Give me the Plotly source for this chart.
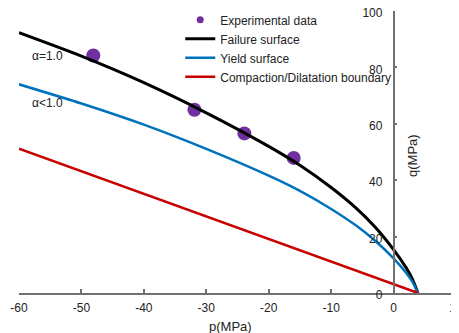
import plotly.graph_objects as go

# Data
p_curve = [-60, -50, -40, -30, -20, -15, -10, -6, -3, 0, 2, 3, 3.9]
q_failure = [92.3, 84.0, 74.6, 63.9, 52.0, 45.3, 37.4, 30.1, 23.5, 15.4, 9.0, 5.0, 0.0]
q_yield = [74.0, 67.2, 59.7, 51.1, 41.6, 36.2, 29.8, 23.9, 18.6, 12.3, 7.2, 4.0, 0.0]
p_boundary = [-60, 3.9]
q_boundary = [51.2, 0.0]
p_exp = [-48.1, -31.9, -23.9, -16.0]
q_exp = [84.2, 65.0, 56.6, 47.9]
x_ticks = [-60, -50, -40, -30, -20, -10, 0, 10]
y_ticks = [0, 20, 40, 60, 80, 100]

FONT = "Arial, Liberation Sans, Helvetica, sans-serif"
TXT = "#222222"
PURPLE = "#7030A0"

fig = go.Figure()
fig.add_trace(go.Scatter(x=p_exp, y=q_exp, mode="markers", name="Experimental data",
                         marker=dict(color=PURPLE, size=14), showlegend=False))
# legend-only entry with the small legend marker
fig.add_trace(go.Scatter(x=[None], y=[None], mode="markers", name="Experimental data",
                         marker=dict(color=PURPLE, size=7)))
fig.add_trace(go.Scatter(x=p_curve, y=q_failure, mode="lines", name="Failure surface",
                         line=dict(color="#000000", width=3, shape="spline", smoothing=0.6)))
fig.add_trace(go.Scatter(x=p_curve, y=q_yield, mode="lines", name="Yield surface",
                         line=dict(color="#0072BD", width=2.5, shape="spline", smoothing=0.6)))
fig.add_trace(go.Scatter(x=p_boundary, y=q_boundary, mode="lines",
                         name="Compaction/Dilatation boundary",
                         line=dict(color="#C80000", width=2.5)))

# The page body adds an 8px offset, so the figure is 8px smaller and margins compensate
fig.update_layout(
    width=451, height=325,
    margin=dict(l=11, r=3, t=3, b=40, autoexpand=False),
    paper_bgcolor="white", plot_bgcolor="white",
    font=dict(family=FONT, size=12, color=TXT),
    showlegend=True,
    legend=dict(x=0.369, y=1.02, xanchor="left", yanchor="top",
                bgcolor="rgba(0,0,0,0)", font=dict(size=12, color=TXT),
                tracegroupgap=0),
    xaxis=dict(range=[-60, 10], tickvals=x_ticks, ticktext=[str(v) for v in x_ticks],
               showgrid=False, zeroline=False, showline=True, linecolor="#707070",
               linewidth=1.5, ticks="inside", ticklen=4, tickcolor="#707070",
               tickwidth=1.5, tickfont=dict(size=12, color=TXT), ticklabelstandoff=3,
               automargin=False, ticklabeloverflow="allow"),
    yaxis=dict(range=[0, 100], tickvals=y_ticks, ticktext=[str(v) for v in y_ticks],
               showgrid=False, zeroline=False, showline=True, linecolor="#707070",
               linewidth=1.5, ticks="inside", ticklen=3, tickcolor="#707070",
               tickwidth=1.5, anchor="free", position=60 / 70,
               tickfont=dict(size=12, color=TXT), ticklabelstandoff=8,
               ticklabelshift=2,
               automargin=False, ticklabeloverflow="allow"),
)

fig.add_annotation(x=-55.5, y=84, xref="x", yref="y", text="α=1.0", showarrow=False,
                   font=dict(size=12, color=TXT))
fig.add_annotation(x=-55.5, y=67.5, xref="x", yref="y", text="α<1.0", showarrow=False,
                   font=dict(size=12, color=TXT))
fig.add_annotation(x=-26.1, y=-0.085, xref="x", yref="paper", text="p(MPa)", showarrow=False,
                   yanchor="top", font=dict(size=13, color=TXT))
fig.add_annotation(x=3.05, y=48.8, xref="x", yref="y", text="q(MPa)", showarrow=False,
                   textangle=-90, font=dict(size=13, color=TXT))

fig.write_html("out.html")
